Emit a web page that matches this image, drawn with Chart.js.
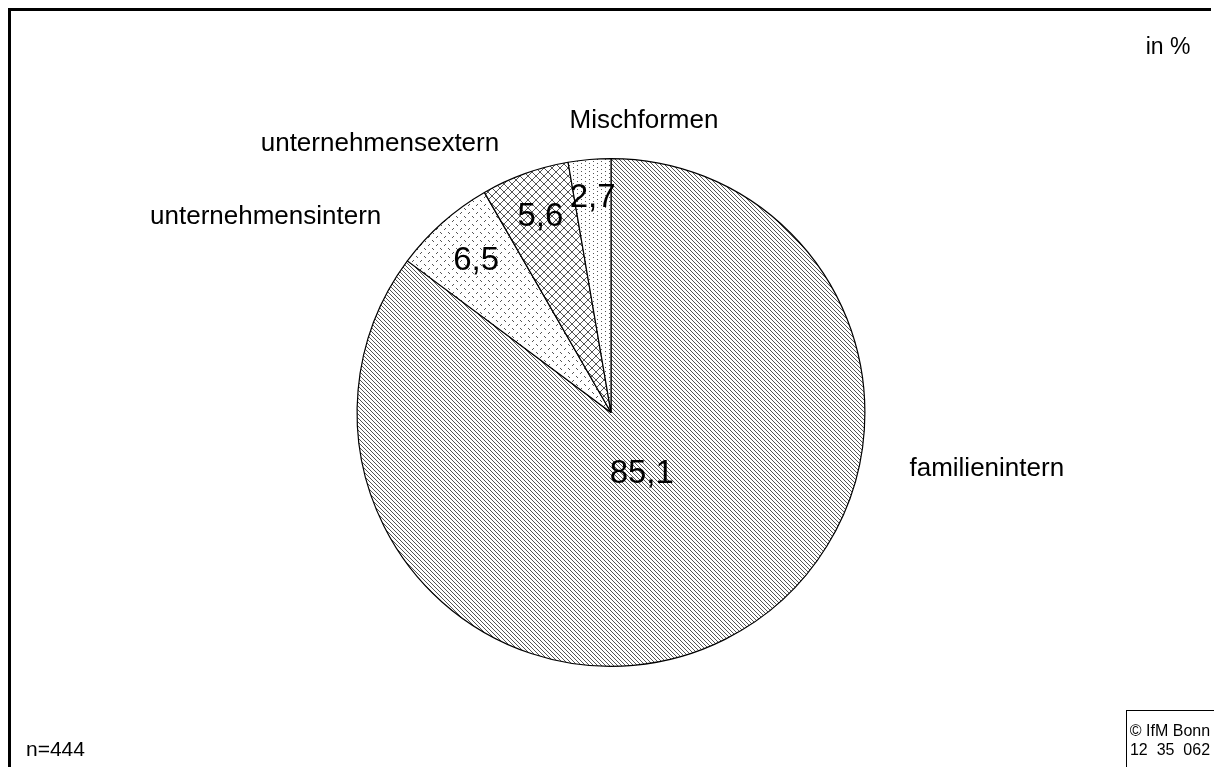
<!DOCTYPE html>
<html>
<head>
<meta charset="utf-8">
<script src="https://cdn.jsdelivr.net/npm/chart.js@4"></script>
<style>
  html, body { margin: 0; padding: 0; background: #fff; }
  #wrap { position: relative; width: 1214px; height: 767px; }
</style>
</head>
<body>
<div id="wrap"><canvas id="pieChart" width="1214" height="767"></canvas></div>
<script>
// data
const categories = ['familienintern', 'unternehmensintern', 'unternehmensextern', 'Mischformen'];
const shares = [85.1, 6.5, 5.6, 2.7];
const valueLabels = ['85,1', '6,5', '5,6', '2,7'];

// where the labels sit, relative to pie centre in units of the radius
const innerLabelRadius = [0.27, 0.8, 0.82, 0.85];
const outerLabelOffset = [[1.48, 0.22], [-1.36, -0.77], [-0.91, -1.06], [0.13, -1.15]];

function makePattern(size, pixels) {
    const c = document.createElement('canvas');
    c.width = size; c.height = size;
    const g = c.getContext('2d');
    g.fillStyle = '#fff';
    g.fillRect(0, 0, size, size);
    g.fillStyle = '#555';
    pixels.forEach(p => g.fillRect(p[0], p[1], 1, 1));
    return g.createPattern(c, 'repeat');
}

document.addEventListener('DOMContentLoaded', function () {
    const ctx = document.getElementById('pieChart').getContext('2d');

    const diag = [], cross = [];
    for (let i = 0; i < 4; i++) diag.push([i, i]);
    for (let i = 0; i < 8; i++) { cross.push([i, i]); cross.push([i, 7 - i]); }
    const fills = [
        makePattern(4, diag),
        makePattern(8, [[0, 0], [1, 1], [4, 5], [5, 4]]),
        makePattern(8, cross),
        makePattern(8, [[1, 1], [5, 3], [1, 5], [5, 7]])
    ];

    const decor = {
        id: 'decor',
        beforeDraw(chart) {
            const c = chart.ctx;
            c.save();
            c.fillStyle = '#fff';
            c.fillRect(0, 0, chart.width, chart.height);
            c.restore();
        },
        afterDraw(chart) {
            const c = chart.ctx;
            const arcs = chart.getDatasetMeta(0).data;
            c.save();
            // frame
            c.fillStyle = '#000';
            c.fillRect(8, 8, 1203, 3);
            c.fillRect(8, 8, 3, 767);
            // copyright box
            c.lineWidth = 1;
            c.strokeStyle = '#000';
            c.strokeRect(1126.5, 710.5, 100, 70);

            c.textAlign = 'center';
            c.textBaseline = 'middle';
            arcs.forEach((arc, i) => {
                const p = arc.getProps(['x', 'y', 'startAngle', 'endAngle', 'outerRadius'], true);
                const mid = (p.startAngle + p.endAngle) / 2;
                const r = p.outerRadius * innerLabelRadius[i];
                c.font = '33px "Liberation Sans", Arial, sans-serif';
                c.fillStyle = '#000';
                c.fillText(valueLabels[i], p.x + Math.cos(mid) * r, p.y + Math.sin(mid) * r);
                c.font = '26px "Liberation Sans", Arial, sans-serif';
                c.fillText(categories[i], p.x + outerLabelOffset[i][0] * p.outerRadius,
                    p.y + outerLabelOffset[i][1] * p.outerRadius);
            });

            c.font = '23px "Liberation Sans", Arial, sans-serif';
            c.fillText('in %', 1168, 48);
            c.textAlign = 'left';
            c.font = '21px "Liberation Sans", Arial, sans-serif';
            c.fillText('n=444', 26, 750);
            c.textAlign = 'center';
            c.font = '16px "Liberation Sans", Arial, sans-serif';
            c.fillText('\u00A9 IfM Bonn', 1170, 732);
            c.fillText('12  35  062', 1170, 751);
            c.restore();
        }
    };

    new Chart(ctx, {
        type: 'pie',
        data: {
            labels: categories,
            datasets: [{
                data: shares,
                backgroundColor: fills,
                borderColor: '#000',
                borderWidth: 1.2
            }]
        },
        options: {
            responsive: false,
            animation: false,
            rotation: 0,
            layout: { padding: { left: 8, right: 0, top: 158, bottom: 100 } },
            plugins: {
                legend: { display: false },
                tooltip: { enabled: false }
            }
        },
        plugins: [decor]
    });
});
</script>
</body>
</html>
